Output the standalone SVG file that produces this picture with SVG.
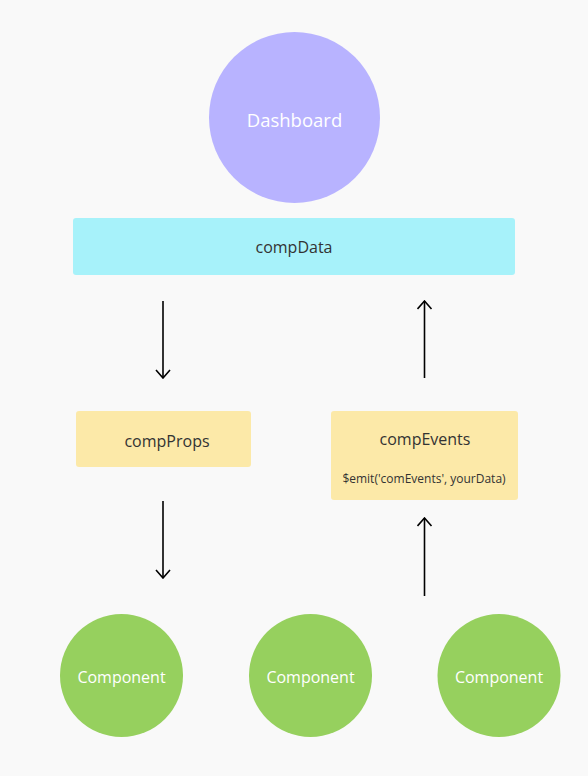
<svg xmlns="http://www.w3.org/2000/svg" width="588" height="776" viewBox="0 0 588 776">
<defs>
<style>
text{font-family:"Open Sans","Noto Sans","DejaVu Sans",sans-serif;text-anchor:middle;dominant-baseline:central}
.w{fill:#ffffff}
.d{fill:#333333}
.c{stroke:#000;stroke-width:1.6;fill:none}
</style>
<marker id="ah" viewBox="0 0 10 16" refX="9" refY="8" markerWidth="10" markerHeight="16" markerUnits="userSpaceOnUse" orient="auto">
<path d="M1,1 L9,8 L1,15" fill="none" stroke="#000" stroke-width="1.6"/>
</marker>
</defs>
<rect x="0" y="0" width="588" height="776" fill="#f9f9f9"/>
<g id="dashboard"><circle cx="294.5" cy="117.5" r="85.5" fill="#b8b3ff"/><text class="w" x="294.5" y="119" font-size="18.5">Dashboard</text></g>
<g id="compData"><rect x="73" y="218" width="442" height="57" rx="3" fill="#a7f2fa"/><text class="d" x="294" y="247" font-size="16">compData</text></g>
<g id="compProps"><rect x="76" y="411" width="175" height="56" rx="3" fill="#fce9a8"/><text class="d" x="167" y="441" font-size="16">compProps</text></g>
<g id="compEvents"><rect x="331" y="411" width="187" height="89" rx="3" fill="#fce9a8"/><text class="d" x="425" y="439" font-size="16">compEvents</text><text class="d" x="424" y="478" font-size="12">$emit('comEvents', yourData)</text></g>
<g id="component1"><circle cx="121.5" cy="675.5" r="61.5" fill="#96d05e"/><text class="w" x="121.5" y="677" font-size="16">Component</text></g>
<g id="component2"><circle cx="310.5" cy="675.5" r="61.5" fill="#96d05e"/><text class="w" x="310.5" y="677" font-size="16">Component</text></g>
<g id="component3"><circle cx="499" cy="675.5" r="61.5" fill="#96d05e"/><text class="w" x="499" y="677" font-size="16">Component</text></g>
<g id="connectors">
<line class="c" x1="163" y1="301" x2="163" y2="378" marker-end="url(#ah)"/>
<line class="c" x1="424.5" y1="378" x2="424.5" y2="301" marker-end="url(#ah)"/>
<line class="c" x1="163" y1="501" x2="163" y2="578" marker-end="url(#ah)"/>
<line class="c" x1="424.5" y1="596" x2="424.5" y2="518" marker-end="url(#ah)"/>
</g>
</svg>
